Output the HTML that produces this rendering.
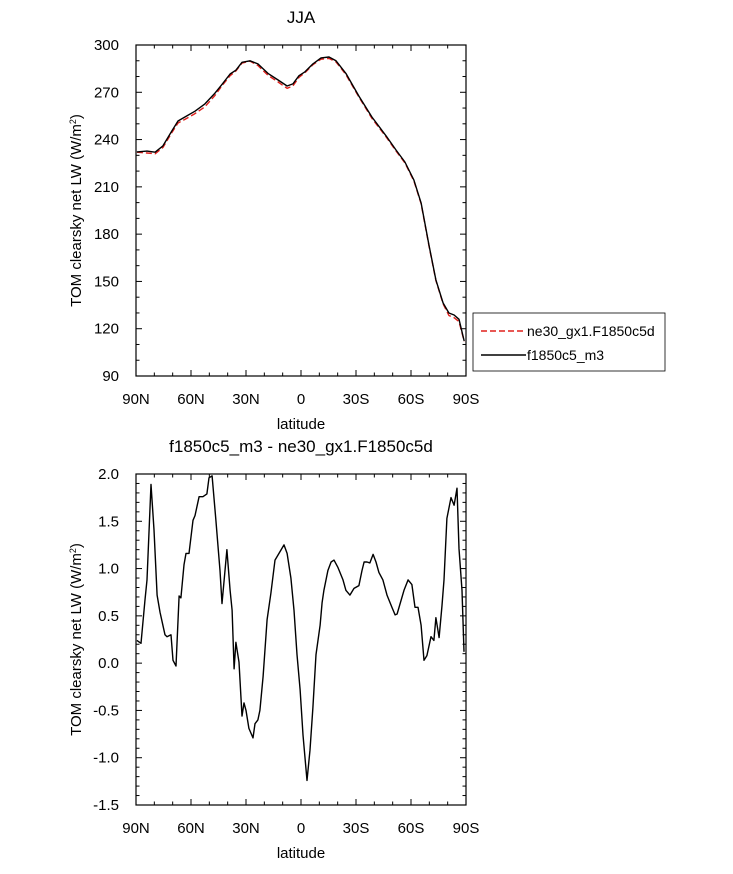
<!DOCTYPE html>
<html><head><meta charset="utf-8"><style>
body{margin:0;background:#fff;}
svg text{font-family:"Liberation Sans",Arial,sans-serif;fill:#000;}
</style></head><body>
<svg id="c" width="733" height="869" xmlns="http://www.w3.org/2000/svg"></svg>
<script>
const topLats=[89.5,84,79.6,75.3,70.4,67.1,63.3,57.8,52.4,46.9,43.1,38.7,35.5,32.2,27.8,23.5,18,12.5,7.6,4.4,1.1,-2.2,-6.5,-10.9,-15.3,-19.1,-24.5,-31.6,-38.7,-46.4,-51.8,-56.7,-61.6,-65.5,-69.8,-73.6,-77.5,-80.7,-83.5,-86.2,-89];
const topCtl=[232.2,232.7,232,236,245.5,251.8,254.3,258,262.6,269.5,275,281.6,284,289,290,288,282,277.8,274,275.3,280.5,283,288,291.8,292.4,290,282,267.6,254.3,242.3,233.4,225.8,214.3,199.8,173,151,136.3,130,128.7,126,112.2];
const topTest=[232,231.5,231,235,244.5,250.5,252.8,256.5,260.8,268,274.2,280.5,283.5,288.5,289.8,287,280.8,276.5,272.5,274,279.5,282.5,287.5,291,291.5,289.3,281.2,267,253.5,241.7,232.8,225.2,213.8,199.3,172.5,150.6,135.8,128.4,127,124.5,112];
const diffLats=[89.5,87.3,85.1,84,81.8,80.2,78.5,76.9,75.3,74.2,73.1,70.9,69.8,68.2,66.5,65.5,63.8,62.7,61.1,58.9,57.8,55.6,53.5,51.3,50.2,48.5,46.4,45.3,44.2,43.1,40.4,38.7,37.6,36.5,35.5,33.8,32.2,31.1,30,28.4,26.2,25.1,23.5,22.4,20.7,18.5,16.4,14.2,9.3,7.6,5.5,3.8,2.2,0.5,-1.1,-3.3,-4.9,-6.5,-8.2,-10.4,-11.5,-12.5,-14.7,-16.4,-18,-20.2,-22.9,-24.5,-26.7,-28.9,-31.6,-33.3,-34.4,-36,-37.6,-39.3,-40.9,-42.5,-44.7,-46.9,-49.6,-51.3,-52.4,-56.2,-58.4,-60.5,-62.2,-63.8,-65.5,-67.1,-68.7,-70.9,-72.5,-73.6,-75.3,-76.9,-78,-79.6,-81.8,-83.5,-85.1,-86.2,-87.8,-88.9];
const diffVals=[0.24,0.21,0.67,0.88,1.89,1.41,0.72,0.54,0.4,0.3,0.28,0.3,0.03,-0.03,0.71,0.69,1.04,1.16,1.16,1.51,1.56,1.76,1.76,1.79,1.96,1.98,1.51,1.25,0.98,0.63,1.2,0.77,0.56,-0.06,0.22,0.01,-0.56,-0.42,-0.5,-0.69,-0.79,-0.64,-0.6,-0.5,-0.14,0.46,0.74,1.09,1.25,1.16,0.9,0.56,0.09,-0.28,-0.76,-1.24,-0.92,-0.47,0.09,0.4,0.64,0.77,0.98,1.07,1.09,1.01,0.88,0.77,0.72,0.79,0.82,0.98,1.07,1.07,1.06,1.15,1.07,0.96,0.88,0.72,0.59,0.51,0.52,0.77,0.88,0.83,0.59,0.59,0.4,0.03,0.08,0.28,0.24,0.48,0.27,0.61,0.88,1.53,1.75,1.67,1.85,1.21,0.77,0.12];
const xTickLabels=["90N","60N","30N","0","30S","60S","90S"];
const xTickVals=[90,60,30,0,-30,-60,-90];
const topYTicks=[90,120,150,180,210,240,270,300];
const botYTicks=[-1.5,-1.0,-0.5,0.0,0.5,1.0,1.5,2.0];

const NS="http://www.w3.org/2000/svg";
const svg=document.getElementById('c');
function mk(tag,attrs,parent){const e=document.createElementNS(NS,tag);for(const k in attrs)e.setAttribute(k,attrs[k]);(parent||svg).appendChild(e);return e;}
const L=136,R=466;
const xs=lat=>L+(90-lat)/180*(R-L);

function panel(name,top,bot,ymin,ymax,yTicks,fmt,minorStep,title){
  const g=mk('g',{});
  
  
  const ys=v=>bot-(v-ymin)/(ymax-ymin)*(bot-top);
  for(let lat=90;lat>=-90;lat-=10){
    const x=xs(lat),major=lat%30===0,len=major?6:3.5;
    mk('line',{x1:x,x2:x,y1:bot,y2:bot-len,stroke:'#000','stroke-width':1},g);
    mk('line',{x1:x,x2:x,y1:top,y2:top+len,stroke:'#000','stroke-width':1},g);
  }
  for(let v=ymin;v<=ymax+1e-9;v+=minorStep){
    const y=ys(v);const major=yTicks.some(t=>Math.abs(t-v)<1e-6);const len=major?6:3.5;
    mk('line',{x1:L,x2:L+len,y1:y,y2:y,stroke:'#000','stroke-width':1},g);
    mk('line',{x1:R,x2:R-len,y1:y,y2:y,stroke:'#000','stroke-width':1},g);
  }
  xTickVals.forEach((lat,i)=>{const t=mk('text',{x:xs(lat),y:bot+28,'font-size':15,'text-anchor':'middle'},g);t.textContent=xTickLabels[i];
    
    });
  yTicks.forEach(v=>{const t=mk('text',{x:L-17,y:ys(v)+5,'font-size':15,'text-anchor':'end'},g);t.textContent=fmt(v);
    
    });
  const xl=mk('text',{x:(L+R)/2,y:bot+53,'font-size':15,'text-anchor':'middle'},g);xl.textContent='latitude';
  
  
  const yl=mk('text',{transform:`translate(81,${(top+bot)/2}) rotate(-90)`,'font-size':15,'text-anchor':'middle'},g);
  yl.innerHTML='TOM clearsky net LW (W/m<tspan dy="-5" font-size="9">2</tspan><tspan dy="5">)</tspan>';
  
  
  const tt=mk('text',{x:(L+R)/2,y:top-22,'font-size':17,'text-anchor':'middle'},g);tt.textContent=title;
  
  
  mk('rect',{x:L,y:top,width:R-L,height:bot-top,fill:'none',stroke:'#000','stroke-width':1.2},g);
  return {g,ys};
}
const p1=panel('top-panel',45,376,90,300,topYTicks,v=>String(v),10,'JJA');
function line(g,lats,vals,ys,stroke,dash,name){
  const d=lats.map((l,i)=>(i?'L':'M')+xs(l).toFixed(1)+','+ys(vals[i]).toFixed(1)).join(' ');
  const p=mk('path',{d,fill:'none',stroke,'stroke-width':1.4,'stroke-dasharray':dash||'none','stroke-linejoin':'round'},g);
  
  
}
line(p1.g,topLats,topTest,p1.ys,'#e0201c','6,3','series-ne30');
line(p1.g,topLats,topCtl,p1.ys,'#000',null,'series-f1850c5');
const p2=panel('bottom-panel',474,805,-1.5,2.0,botYTicks,v=>v.toFixed(1),0.1,'f1850c5_m3 - ne30_gx1.F1850c5d');
line(p2.g,diffLats,diffVals,p2.ys,'#000',null,'series-difference');

const lg=mk('g',{});


mk('rect',{x:473,y:313,width:192,height:58,fill:'#fff',stroke:'#000','stroke-width':0.8},lg);
mk('line',{x1:481,x2:526,y1:331,y2:331,stroke:'#e0201c','stroke-width':1.4,'stroke-dasharray':'6,3'},lg);
const t1=mk('text',{x:527,y:336,'font-size':14},lg);t1.textContent='ne30_gx1.F1850c5d';


mk('line',{x1:481,x2:526,y1:355,y2:355,stroke:'#000','stroke-width':1.4},lg);
const t2=mk('text',{x:527,y:360,'font-size':14},lg);t2.textContent='f1850c5_m3';


</script>
</body></html>
